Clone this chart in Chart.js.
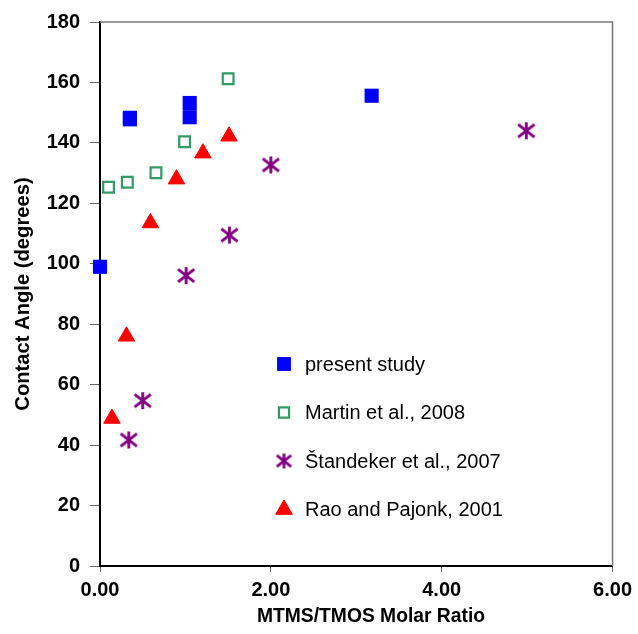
<!DOCTYPE html>
<html>
<head>
<meta charset="utf-8">
<script src="https://cdn.jsdelivr.net/npm/chart.js@4"></script>
<style>
  html, body { margin: 0; padding: 0; background: #fff; }
  #wrap { width: 638px; height: 634px; }
</style>
</head>
<body>
<div id="wrap"><canvas id="contactAngle" width="638" height="634"></canvas></div>
<script>
const seriesNames = ["present study", "Martin et al., 2008", "Štandeker et al., 2007", "Rao and Pajonk, 2001"];
const xTitle = "MTMS/TMOS Molar Ratio";
const yTitle = "Contact Angle (degrees)";

const presentX = [0.00, 0.35, 0.35, 1.05, 1.05, 3.18];
const presentY = [99, 148.3, 147.8, 153.2, 148.5, 155.6];

const martinX = [0.10, 0.32, 0.655, 0.99, 1.50];
const martinY = [125.3, 127, 130.1, 140.4, 161.2];

const standekerX = [0.337, 0.50, 1.008, 1.515, 2.00, 4.99];
const standekerY = [41.7, 54.7, 96.1, 109.5, 132.7, 144];

const raoX = [0.14, 0.31, 0.59, 0.895, 1.205, 1.51];
const raoY = [48.8, 76, 113.5, 128, 136.6, 142.2];

const FONT = "'Liberation Sans', Arial, sans-serif";

function toPoints(xs, ys) {
    return xs.map(function (x, i) { return { x: x, y: ys[i] }; });
}

// six-armed asterisk, like the Excel marker
function makeAsterisk(size, color, width) {
    const c = document.createElement("canvas");
    c.width = size + 4;
    c.height = size + 4;
    const g = c.getContext("2d");
    const m = 2, s = size;
    g.strokeStyle = color;
    g.lineWidth = width;
    g.beginPath();
    g.moveTo(m + s / 2, m);
    g.lineTo(m + s / 2, m + s);
    g.moveTo(m + s * 0.02, m + s * 0.12);
    g.lineTo(m + s * 0.98, m + s * 0.88);
    g.moveTo(m + s * 0.98, m + s * 0.12);
    g.lineTo(m + s * 0.02, m + s * 0.88);
    g.stroke();
    return c;
}

document.addEventListener("DOMContentLoaded", function () {
    const ctx = document.getElementById("contactAngle").getContext("2d");
    const asterisk = makeAsterisk(17, "#800080", 2.8);
    const legendAsterisk = makeAsterisk(15, "#800080", 2.8);

    const styles = [
        { pointStyle: "rect", radius: 10, backgroundColor: "#0000ff", borderColor: "#0000ff", borderWidth: 0 },
        { pointStyle: "rect", radius: 7.6, backgroundColor: "#ffffff", borderColor: "#339966", borderWidth: 2.2 },
        { pointStyle: asterisk, radius: 8, backgroundColor: "#800080", borderColor: "#800080", borderWidth: 0 },
        { pointStyle: "triangle", radius: 9.5, backgroundColor: "#ff0000", borderColor: "#ff0000", borderWidth: 1 }
    ];
    const legendRadius = [9.8, 7.2, 8, 9.6];

    const frameAndLegend = {
        id: "frameAndLegend",
        afterDatasetsDraw: function (chart) {
            const a = chart.chartArea;
            const c = chart.ctx;
            c.save();
            c.strokeStyle = "#777";
            c.lineWidth = 1.5;
            c.beginPath();
            c.moveTo(a.left, a.top);
            c.lineTo(a.right, a.top);
            c.lineTo(a.right, a.bottom);
            c.stroke();

            // x axis title, sitting a bit right of centre as in the original
            c.font = "bold 19.3px " + FONT;
            c.fillStyle = "#000";
            c.textAlign = "center";
            c.textBaseline = "middle";
            c.fillText(xTitle, 371, 617);

            // legend inside the plot
            const lx = a.left + 184, ly = a.top + 342, gap = 48.5;
            c.font = "20px " + FONT;
            c.textAlign = "left";
            seriesNames.forEach(function (name, i) {
                const st = styles[i];
                c.fillStyle = st.backgroundColor;
                c.strokeStyle = st.borderColor;
                c.lineWidth = st.borderWidth;
                Chart.helpers.drawPoint(c, {
                    pointStyle: i === 2 ? legendAsterisk : st.pointStyle,
                    radius: legendRadius[i],
                    rotation: 0,
                    borderWidth: st.borderWidth
                }, lx, ly + i * gap);
                c.fillStyle = "#000";
                c.fillText(name, lx + 21, ly + i * gap + 1);
            });
            c.restore();
        }
    };

    const sets = [
        toPoints(presentX, presentY),
        toPoints(martinX, martinY),
        toPoints(standekerX, standekerY),
        toPoints(raoX, raoY)
    ];

    new Chart(ctx, {
        type: "scatter",
        data: {
            datasets: sets.map(function (pts, i) {
                const st = styles[i];
                return {
                    label: seriesNames[i],
                    data: pts,
                    pointStyle: st.pointStyle,
                    pointRadius: st.radius,
                    pointHoverRadius: st.radius,
                    pointBackgroundColor: st.backgroundColor,
                    pointBorderColor: st.borderColor,
                    pointBorderWidth: st.borderWidth,
                    clip: false
                };
            })
        },
        options: {
            responsive: false,
            animation: false,
            layout: { padding: { left: 0, right: 22, top: 22, bottom: 0 } },
            plugins: {
                legend: { display: false },
                tooltip: { enabled: false }
            },
            scales: {
                x: {
                    type: "linear",
                    min: 0,
                    max: 6,
                    afterFit: function (s) { s.height = 68; },
                    border: { display: true, color: "#000", width: 2 },
                    grid: { drawOnChartArea: false, drawTicks: true, tickLength: 6, color: "#666", lineWidth: 1 },
                    ticks: {
                        stepSize: 2,
                        padding: 6,
                        color: "#000",
                        font: { family: FONT, size: 20, weight: "bold" },
                        callback: function (v) { return v.toFixed(2); }
                    },
                    title: { display: false }
                },
                y: {
                    type: "linear",
                    min: 0,
                    max: 180,
                    afterFit: function (s) { s.width = 100; },
                    border: { display: true, color: "#000", width: 2 },
                    grid: { drawOnChartArea: false, drawTicks: true, tickLength: 10, color: "#666", lineWidth: 1 },
                    ticks: {
                        stepSize: 20,
                        padding: 10,
                        color: "#000",
                        font: { family: FONT, size: 20, weight: "bold" }
                    },
                    title: {
                        display: true,
                        text: yTitle,
                        color: "#000",
                        font: { family: FONT, size: 20.2, weight: "bold" },
                        padding: { top: 11, bottom: 0 }
                    }
                }
            }
        },
        plugins: [frameAndLegend]
    });
});
</script>
</body>
</html>
